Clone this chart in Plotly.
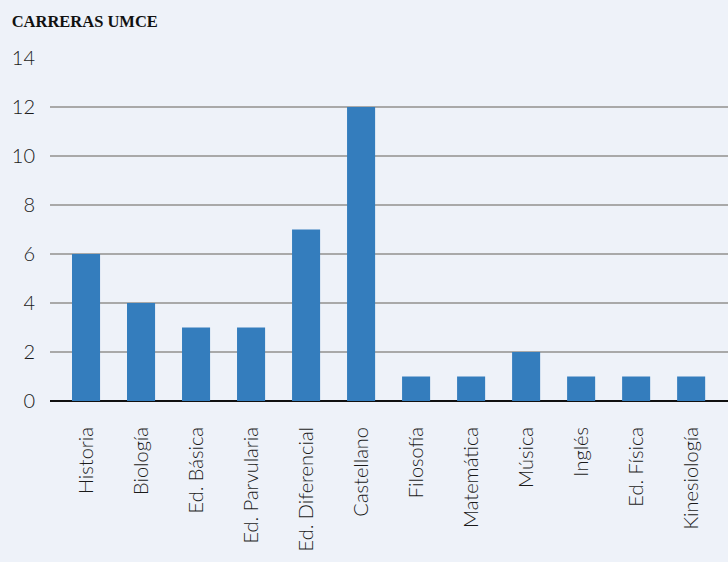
import plotly.graph_objects as go

categorias = ["Historia", "Biología", "Ed. Básica", "Ed. Parvularia", "Ed. Diferencial",
              "Castellano", "Filosofía", "Matemática", "Música", "Inglés", "Ed. Física",
              "Kinesiología"]
valores = [6, 4, 3, 3, 7, 12, 1, 1, 2, 1, 1, 1]
y_ticks = [0, 2, 4, 6, 8, 10, 12, 14]

fig = go.Figure()
fig.add_trace(go.Bar(x=categorias, y=valores, marker=dict(color="#347dbd", line=dict(width=0)),
                     width=0.51))

fig.update_layout(
    width=728, height=562,
    paper_bgcolor="#eef2f9", plot_bgcolor="#eef2f9",
    margin=dict(l=50, r=0, t=58, b=161),
    showlegend=False,
    font=dict(family="Lato", size=19, color="#1a1a1a", weight=300),
    title=dict(text="<b>CARRERAS UMCE</b>", x=0.016, xref="container", xanchor="left",
               y=1, yref="container", yanchor="top", pad=dict(t=15),
               font=dict(family="Liberation Serif", size=16.5, color="#111111")),
)
fig.update_xaxes(range=[-0.655, 11.67], tickangle=-90, showgrid=False, showline=False,
                 ticks="", ticklabelstandoff=21, tickfont=dict(size=20))
fig.update_yaxes(range=[0, 14], tickvals=y_ticks, showgrid=True, gridcolor="#a9a9a9",
                 gridwidth=1.5, zeroline=True, zerolinecolor="#111111", zerolinewidth=2,
                 showline=False, ticks="", ticklabelstandoff=14, tickfont=dict(size=20))

fig.write_html("out.html", config={"displayModeBar": False},
               post_script="document.body.style.margin='0';document.body.style.overflow='hidden';")
